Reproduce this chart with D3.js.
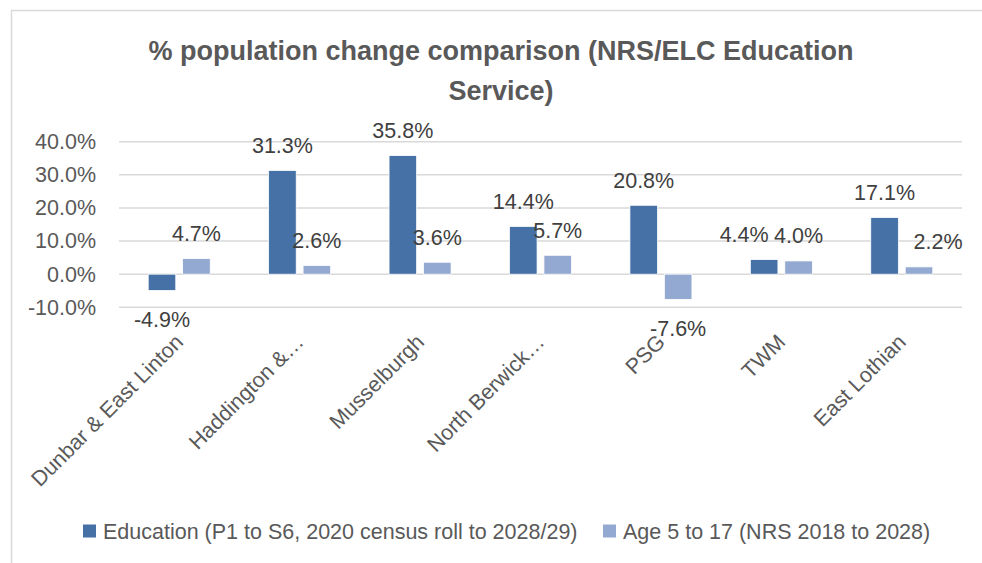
<!DOCTYPE html>
<html>
<head>
<meta charset="utf-8">
<script src="https://cdn.jsdelivr.net/npm/d3@7"></script>
<style>
  body { margin: 0; background: #fff; }
  text { font-family: "Liberation Sans", Arial, sans-serif; }
</style>
</head>
<body>
<div id="chart"></div>
<script>
// data
var categories = ["Dunbar & East Linton", "Haddington &\u2026", "Musselburgh", "North Berwick\u2026", "PSG", "TWM", "East Lothian"];
var seriesNames = ["Education (P1 to S6, 2020 census roll to 2028/29)", "Age 5 to 17 (NRS 2018 to 2028)"];
var education = [-4.9, 31.3, 35.8, 14.4, 20.8, 4.4, 17.1];
var age5to17 = [4.7, 2.6, 3.6, 5.7, -7.6, 4.0, 2.2];
var yTicks = [-10, 0, 10, 20, 30, 40];

var colors = ["#4571a6", "#94a9d1"];

// work area
var svgWidth = 982;
var svgHeight = 563;
var plot = { left: 119, right: 962, top: 141.7, bottom: 307.3 };
var fontSize = "21.5px";

var svg = d3.select("#chart")
    .append("svg")
    .attr("width", svgWidth)
    .attr("height", svgHeight);

// chart border (only top + left show in the screenshot)
svg.append("path")
    .attr("d", "M11.5,563 V10.5 H982")
    .attr("fill", "none")
    .attr("stroke", "#d9d9d9")
    .attr("stroke-width", 1.5);

// title
svg.append("text")
    .attr("text-anchor", "middle")
    .attr("font-weight", "bold")
    .attr("font-size", "27px")
    .attr("fill", "#595959")
    .selectAll("tspan")
    .data(["% population change comparison (NRS/ELC Education", "Service)"])
    .enter()
    .append("tspan")
    .attr("x", 501)
    .attr("y", (d, i) => 60 + i * 40)
    .text(d => d);

// scales
var x0 = d3.scaleBand()
    .domain(categories)
    .range([plot.left, plot.right])
    .padding(0);

var x1 = d3.scaleBand()
    .domain([0, 1])
    .range([-31, 31])
    .paddingInner(0.2);

var y = d3.scaleLinear()
    .domain([-10, 40])
    .range([plot.bottom, plot.top]);

// excel style percent, plain hyphen for negatives
var pct = d => (d < 0 ? "-" : "") + Math.abs(d).toFixed(1) + "%";

// gridlines
svg.append("g")
    .selectAll("line")
    .data(yTicks)
    .enter()
    .append("line")
    .attr("x1", plot.left)
    .attr("x2", plot.right)
    .attr("y1", d => y(d))
    .attr("y2", d => y(d))
    .attr("stroke", "#d9d9d9")
    .attr("stroke-width", 1.5);

// y axis labels
var leftAxis = d3.axisLeft(y)
    .tickValues(yTicks)
    .tickSize(0)
    .tickPadding(0)
    .tickFormat(pct);

var yAxisG = svg.append("g")
    .attr("transform", "translate(96,0)")
    .call(leftAxis);
yAxisG.select(".domain").remove();
yAxisG.selectAll("text")
    .attr("font-family", "'Liberation Sans', Arial, sans-serif")
    .attr("font-size", fontSize)
    .attr("fill", "#595959");

// bars
var rows = categories.map((c, i) => ({ cat: c, vals: [education[i], age5to17[i]] }));

var groups = svg.append("g")
    .selectAll("g")
    .data(rows)
    .enter()
    .append("g")
    .attr("transform", d => `translate(${x0(d.cat) + x0.bandwidth() / 2}, 0)`);

groups.selectAll("rect")
    .data(d => d.vals.map((v, s) => ({ v: v, s: s })))
    .enter()
    .append("rect")
    .attr("x", d => x1(d.s))
    .attr("width", x1.bandwidth())
    .attr("y", d => y(Math.max(0, d.v)))
    .attr("height", d => Math.abs(y(d.v) - y(0)))
    .attr("fill", d => colors[d.s])
    .attr("stroke", "#ffffff")
    .attr("stroke-width", 0.75);

// a couple of labels were dragged sideways in the original
var labelNudge = { "0-5": -20, "1-6": 19 };

groups.selectAll("text.val")
    .data((d, ci) => d.vals.map((v, s) => ({ v: v, s: s, ci: ci })))
    .enter()
    .append("text")
    .attr("class", "val")
    .attr("x", d => x1(d.s) + x1.bandwidth() / 2 + (labelNudge[d.s + "-" + d.ci] || 0))
    .attr("y", d => d.v >= 0 ? y(d.v) - 25 : y(d.v) + 29)
    .attr("dy", "0.35em")
    .attr("text-anchor", "middle")
    .attr("font-size", fontSize)
    .attr("fill", "#404040")
    .text(d => pct(d.v));

// category labels, rotated
svg.append("g")
    .selectAll("text")
    .data(categories)
    .enter()
    .append("text")
    .attr("transform", d => `translate(${x0(d) + x0.bandwidth() / 2}, 338) rotate(-45)`)
    .attr("text-anchor", "end")
    .attr("dy", "0.35em")
    .attr("font-size", fontSize)
    .attr("fill", "#595959")
    .text(d => d);

// legend
var legendPos = [83, 603];
var legend = svg.append("g")
    .selectAll("g")
    .data(seriesNames)
    .enter()
    .append("g")
    .attr("transform", (d, i) => `translate(${legendPos[i]}, 531)`);

legend.append("rect")
    .attr("x", 0)
    .attr("y", -6.5)
    .attr("width", 13)
    .attr("height", 13)
    .attr("fill", (d, i) => colors[i]);

legend.append("text")
    .attr("x", 20)
    .attr("dy", "0.35em")
    .attr("font-size", fontSize)
    .attr("fill", "#595959")
    .text(d => d);
</script>
</body>
</html>
